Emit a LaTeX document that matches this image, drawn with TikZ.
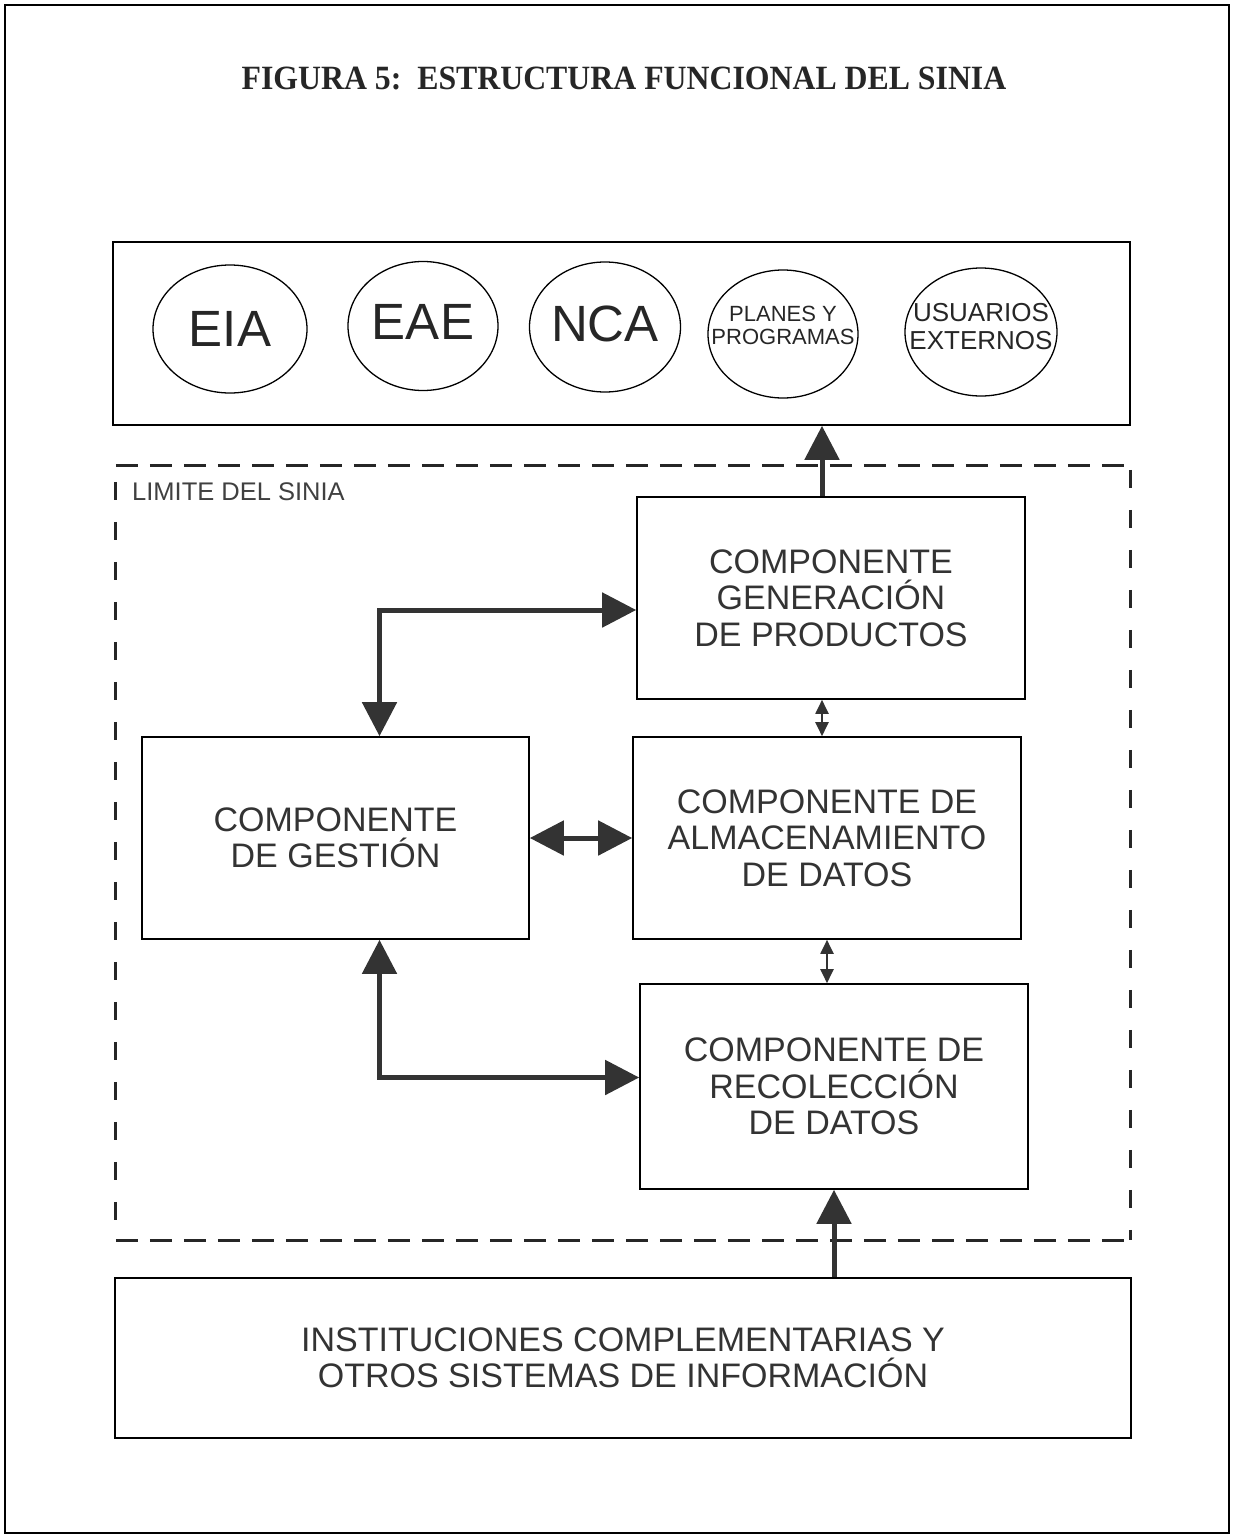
\documentclass[tikz,border=0pt]{standalone}
\usepackage{fontspec}
\setmainfont{Liberation Sans}
\newfontfamily\titlefont{Liberation Serif}
\usetikzlibrary{arrows.meta,shapes.geometric,calc}
\begin{document}
\begin{tikzpicture}[x=1pt,y=-1pt,
  box/.style={draw=black, line width=1.6pt, inner sep=0pt, align=center, text=black!80,
              font=\fontsize{34}{36.5}\selectfont},
  oval/.style={draw=black, ellipse, line width=1.3pt, inner sep=0pt},
  ovaltext/.style={align=center, text=black!85, inner sep=0pt},
  bigarr/.style={line width=5pt, draw=black!80, line join=miter,
                 -{Triangle[width=34pt,length=34pt]}},
  bigdbl/.style={line width=5pt, draw=black!80, line join=miter,
                 {Triangle[width=34pt,length=34pt]}-{Triangle[width=34pt,length=34pt]}},
  smalldbl/.style={line width=2pt, draw=black!80,
                 {Triangle[width=13pt,length=14pt]}-{Triangle[width=13pt,length=14pt]}},
  limdash/.style={line width=3pt, draw=black!85},
]
\useasboundingbox (0,0) rectangle (1233,1537);
\draw[line width=1.5pt] (5,5) rectangle (1229,1533);

\node[font=\titlefont\bfseries\fontsize{34}{36}\selectfont, text=black!85] (title) at (624,78)
  {\scalebox{0.935}[1]{FIGURA 5:\ \ ESTRUCTURA FUNCIONAL DEL SINIA}};

% top box with ovals
\node[box, minimum width=1017pt, minimum height=183pt] (top) at (621.5,333.5) {};
\node[oval, minimum width=154pt, minimum height=128pt] (eia) at (230,329) {};
\node[oval, minimum width=150pt, minimum height=129pt] (eae) at (423,326) {};
\node[oval, minimum width=151pt, minimum height=130pt] (nca) at (605,327) {};
\node[oval, minimum width=150pt, minimum height=128pt] (pla) at (783,334) {};
\node[oval, minimum width=152pt, minimum height=128pt] (usu) at (981,332) {};
\node[ovaltext, font=\fontsize{51}{53}\selectfont] (eiat) at (eia.center) {EIA};
\node[ovaltext, font=\fontsize{51}{53}\selectfont] (eaet) at ([yshift=4pt]eae.center) {EAE};
\node[ovaltext, font=\fontsize{51}{53}\selectfont] (ncat) at ([yshift=3pt]nca.center) {NCA};
\node[ovaltext, font=\fontsize{22}{23}\selectfont] (plat) at ([yshift=9pt]pla.center) {PLANES Y\\PROGRAMAS};
\node[ovaltext, font=\fontsize{26}{28}\selectfont] (usut) at ([yshift=5pt]usu.center) {USUARIOS\\EXTERNOS};

% limit of SINIA
\node[minimum width=1014pt, minimum height=774pt, inner sep=0pt] (lim) at (623,853) {};
\draw[limdash, dash pattern=on 22pt off 12pt] (lim.north west) -- (lim.north east);
\draw[limdash, dash pattern=on 22pt off 12pt] (lim.south west) -- (lim.south east);
\draw[limdash, dash pattern=on 18pt off 22pt] (lim.north west) ++(0,-16pt) -- (lim.south west);
\draw[limdash, dash pattern=on 18pt off 22pt] (lim.north east) ++(0,-4pt) -- (lim.south east);
\node[anchor=west, font=\fontsize{25.5}{27}\selectfont, text=black!75, inner sep=0pt] (limlbl) at (132,492) {LIMITE DEL SINIA};

% component boxes
\node[box, minimum width=388pt, minimum height=202pt] (gen) at (831,598) {COMPONENTE\\GENERACIÓN\\DE PRODUCTOS};
\node[box, minimum width=387pt, minimum height=202pt] (gest) at (335.5,838) {COMPONENTE\\DE GESTIÓN};
\node[box, minimum width=388pt, minimum height=202pt] (alm) at (827,838) {COMPONENTE DE\\ALMACENAMIENTO\\DE DATOS};
\node[box, minimum width=388pt, minimum height=205pt] (rec) at (834,1086.5) {COMPONENTE DE\\RECOLECCIÓN\\DE DATOS};
\node[box, minimum width=1016pt, minimum height=160pt] (bot) at (623,1358) {INSTITUCIONES COMPLEMENTARIAS Y\\OTROS SISTEMAS DE INFORMACIÓN};

% connectors
\draw[bigarr] ([xshift=-9pt]gen.north) -- ([xshift=-9pt]gen.north |- top.south);
\draw[bigdbl] ([xshift=44pt]gest.north) |- ([yshift=-12pt]gen.west);
\draw[bigdbl] (gest.east) -- (alm.west);
\draw[bigdbl] ([xshift=44pt]gest.south) |- ([yshift=9pt]rec.west);
\draw[smalldbl] ([xshift=-9pt]gen.south) -- ([xshift=-9pt]gen.south |- alm.north);
\draw[smalldbl] (alm.south) -- (alm.south |- rec.north);
\draw[bigarr] (rec.south |- bot.north) -- (rec.south);
\end{tikzpicture}
\end{document}
